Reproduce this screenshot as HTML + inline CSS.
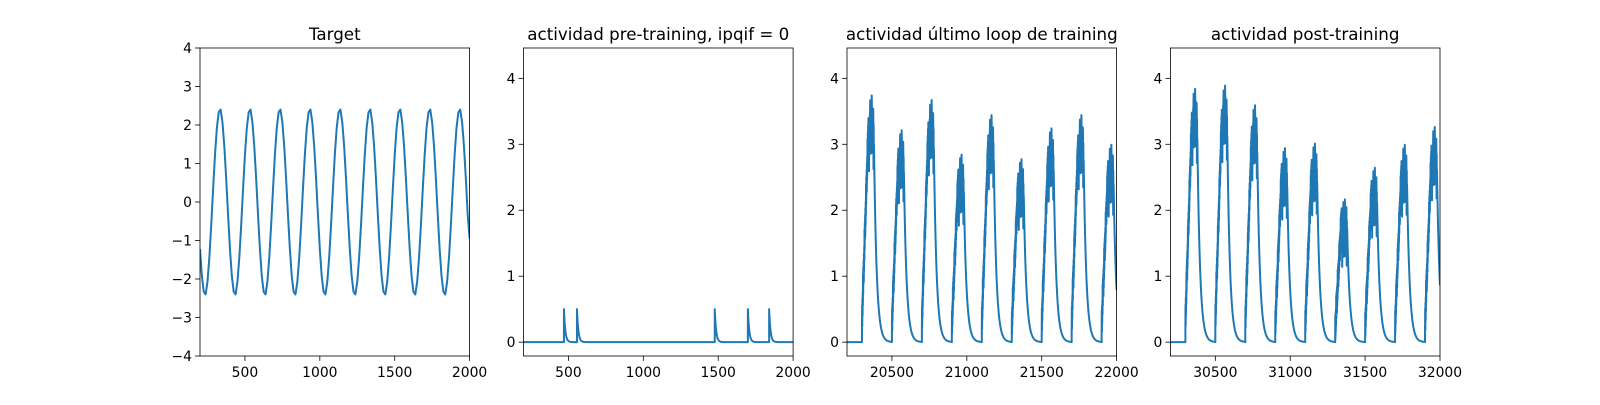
<!DOCTYPE html>
<html><head><meta charset="utf-8">
<style>
html,body{margin:0;padding:0;background:#fff;}
svg text{font-family:"DejaVu Sans","Liberation Sans",sans-serif;fill:#000;}
</style></head>
<body>
<svg id="fig" width="1600" height="400" viewBox="0 0 1600 400" xmlns="http://www.w3.org/2000/svg">
<rect width="1600" height="400" fill="#fff"/>
</svg>
<script>
// ---- data ----
const targetX0 = 200, targetStep = 12.5;
const targetValues = [
-1.22,-1.92,-2.33,-2.40,-2.07,-1.44,-0.60,0.34,1.22,1.92,2.33,2.40,2.07,1.44,0.60,-0.34,
-1.22,-1.92,-2.33,-2.40,-2.07,-1.44,-0.60,0.34,1.22,1.92,2.33,2.40,2.07,1.44,0.60,-0.34,
-1.22,-1.92,-2.33,-2.40,-2.07,-1.44,-0.60,0.34,1.22,1.92,2.33,2.40,2.07,1.44,0.60,-0.34,
-1.22,-1.92,-2.33,-2.40,-2.07,-1.44,-0.60,0.34,1.22,1.92,2.33,2.40,2.07,1.44,0.60,-0.34,
-1.22,-1.92,-2.33,-2.40,-2.07,-1.44,-0.60,0.34,1.22,1.92,2.33,2.40,2.07,1.44,0.60,-0.34,
-1.22,-1.92,-2.33,-2.40,-2.07,-1.44,-0.60,0.34,1.22,1.92,2.33,2.40,2.07,1.44,0.60,-0.34,
-1.22,-1.92,-2.33,-2.40,-2.07,-1.44,-0.60,0.34,1.22,1.92,2.33,2.40,2.07,1.44,0.60,-0.34,
-1.22,-1.92,-2.33,-2.40,-2.07,-1.44,-0.60,0.34,1.22,1.92,2.33,2.40,2.07,1.44,0.60,-0.34,
-1.22,-1.92,-2.33,-2.40,-2.07,-1.44,-0.60,0.34,1.22,1.92,2.33,2.40,2.07,1.44,0.60,-0.34,
-0.95];
const preSpikeTimes = [470, 557, 1477, 1698, 1840];
const preSpikeHeights = [0.5, 0.5, 0.5, 0.5, 0.5];
const lastLoopStarts = [20300, 20500, 20700, 20900, 21100, 21300, 21500, 21700, 21900];
const lastLoopPeaks = [3.75, 3.22, 3.68, 2.85, 3.45, 2.78, 3.25, 3.45, 3.0];
const postStarts = [30300, 30500, 30700, 30900, 31100, 31300, 31500, 31700, 31900];
const postPeaks = [3.85, 3.9, 3.6, 2.95, 3.02, 2.17, 2.65, 3.0, 3.27];
const ticks1Y = [-4,-3,-2,-1,0,1,2,3,4];
const ticksAY = [0,1,2,3,4];
const ticks12X = [500,1000,1500,2000];
const ticks3X = [20500,21000,21500,22000];
const ticks4X = [30500,31000,31500,32000];

const NS = "http://www.w3.org/2000/svg";
const svg = document.getElementById('fig');
const BLUE = "#1f77b4";
function mk(tag, attrs, parent){const e=document.createElementNS(NS,tag);for(const k in attrs)e.setAttribute(k,attrs[k]);(parent||svg).appendChild(e);return e;}

const W = 269.6, TOP = 48, H = 308;
function makeAxes(left, xmin, xmax, ymin, ymax, title, xt, yt, name){
  const g = mk('g', {});
  
  
  const sx = v => left + (v - xmin) / (xmax - xmin) * W;
  const sy = v => TOP + H - (v - ymin) / (ymax - ymin) * H;
  const clipId = name + '-clip';
  const cp = mk('clipPath', {id: clipId}, g);
  mk('rect', {x:left, y:TOP, width:W, height:H}, cp);
  const plot = mk('g', {'clip-path': 'url(#' + clipId + ')'}, g);
  
  
  const t = mk('text', {x:left + W/2, y:TOP - 8, 'text-anchor':'middle', 'font-size':'16.7px'}, g);
  
  
  t.textContent = title;
  xt.forEach(v => {
    const x = sx(v);
    mk('line', {x1:x, x2:x, y1:TOP+H, y2:TOP+H+4.9, stroke:'#000', 'stroke-width':0.8}, g);
    const l = mk('text', {x:x, y:TOP+H+21, 'text-anchor':'middle', 'font-size':'13.9px'}, g);
    
    
    l.textContent = String(v);
  });
  yt.forEach(v => {
    const y = sy(v);
    mk('line', {x1:left-4.9, x2:left, y1:y, y2:y, stroke:'#000', 'stroke-width':0.8}, g);
    const l = mk('text', {x:left-8, y:y+5, 'text-anchor':'end', 'font-size':'13.9px'}, g);
    
    
    l.textContent = v < 0 ? '\u2212' + Math.abs(v) : String(v);
  });
  const fr = mk('rect', {x:left, y:TOP, width:W, height:H, fill:'none', stroke:'#000', 'stroke-width':0.8}, g);
  
  
  return {sx, sy, plot};
}
function drawLine(ax, pts, name){
  const d = pts.map((p,i)=>(i?'L':'M')+ax.sx(p[0]).toFixed(2)+' '+ax.sy(p[1]).toFixed(2)).join(' ');
  const p = mk('path', {d:d, fill:'none', stroke:BLUE, 'stroke-width':2, 'stroke-linejoin':'round'}, ax.plot);
  
  
}

// Panel 1: target
const ax1 = makeAxes(200, 200, 2000, -4, 4, 'Target', ticks12X, ticks1Y, 'target-panel');
drawLine(ax1, targetValues.map((v,i)=>[targetX0 + i*targetStep, v]), 'target-line');

// Panel 2: pre-training spikes
const ax2 = makeAxes(523.5, 200, 2000, -0.21, 4.46, 'actividad pre-training, ipqif = 0', ticks12X, ticksAY, 'pre-training-panel');
(function(){
  const pts = [[200,0]];
  preSpikeTimes.forEach((t,k)=>{
    pts.push([t,0]); pts.push([t,preSpikeHeights[k]]);
    for(let d=1; d<=60; d+=1) pts.push([t+d, preSpikeHeights[k]*Math.exp(-d/9)]);
  });
  pts.push([2000,0]);
  drawLine(ax2, pts, 'pre-training-line');
})();

// burst shape renderer (rise with jitter, noisy top, exponential decay)
function burstPoints(starts, peaks, xmin, xmax){
  const pts = [[xmin,0]];
  starts.forEach((s,k)=>{
    const P = peaks[k];
    pts.push([s,0]);
    for(let d=0; d<=200; d+=1){
      const t = s + d; if(t > xmax) break;
      let y;
      const j = ((d*7)%5)/4; // deterministic jitter pattern 0..1
      if(d < 45){ y = P*(0.08 + 0.82*d/45) + (d%2 ? 0.25 : -0.2)*(0.5+j*0.5); }
      else if(d < 80){
        const env = P*(0.9 + 0.1*Math.sin(Math.PI*(d-45)/35));
        y = env - (d%2 ? 0.85*j : 0.15);
      }
      else { y = P*0.8*Math.exp(-(d-80)/18); }
      pts.push([t, Math.max(0,y)]);
    }
  });
  return pts;
}
const ax3 = makeAxes(847, 20200, 22000, -0.21, 4.46, 'actividad \u00faltimo loop de training', ticks3X, ticksAY, 'last-loop-panel');
drawLine(ax3, burstPoints(lastLoopStarts, lastLoopPeaks, 20200, 22000), 'last-loop-line');
const ax4 = makeAxes(1170.4, 30200, 32000, -0.21, 4.46, 'actividad post-training', ticks4X, ticksAY, 'post-training-panel');
drawLine(ax4, burstPoints(postStarts, postPeaks, 30200, 32000), 'post-training-line');
</script>
</body></html>
